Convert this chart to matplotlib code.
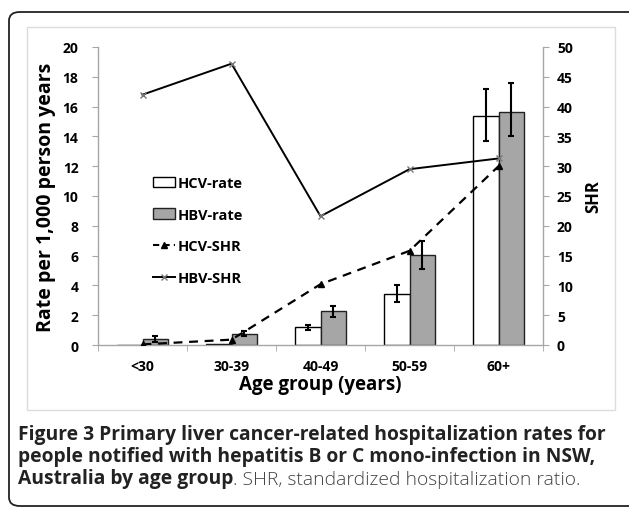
import numpy as np
import matplotlib.pyplot as plt
from matplotlib.patches import FancyBboxPatch, Rectangle, Patch
from matplotlib.lines import Line2D

OUT_PATH = "out.png"

# data
age_groups = ["<30", "30-39", "40-49", "50-59", "60+"]
hcv_rate = [0.0, 0.05, 1.18, 3.43, 15.37]
hcv_lo = [0.0, 0.05, 1.0, 2.9, 13.7]
hcv_hi = [0.0, 0.05, 1.35, 4.0, 17.2]
hbv_rate = [0.42, 0.75, 2.25, 6.06, 15.66]
hbv_lo = [0.2, 0.6, 1.85, 5.1, 14.0]
hbv_hi = [0.62, 0.95, 2.6, 7.0, 17.6]
hcv_shr = [0.1, 0.9, 10.2, 15.8, 30.0]
hbv_shr = [42.0, 47.2, 21.6, 29.5, 31.3]

CHART_FONT = ["Open Sans", "DejaVu Sans"]
CAP_FONT = ["Open Sans", "DejaVu Sans"]
GRID_GRAY = "#a6a6a6"

plt.rcParams["font.family"] = CHART_FONT
plt.rcParams["font.weight"] = "bold"

W, H = 629, 510
fig = plt.figure(figsize=(W / 100, H / 100), dpi=100)


# pixel -> figure fraction
def fx(px):
    return px / W


def fy(py):
    return 1 - py / H


# outer rounded frame and inner chart box
outer = FancyBboxPatch((fx(9), fy(507)), fx(640) - fx(9), fy(13) - fy(507),
                       boxstyle="round,pad=0,rounding_size=0.017",
                       transform=fig.transFigure, fill=False,
                       edgecolor="#222222", linewidth=1.3)
fig.patches.append(outer)
inner = Rectangle((fx(27), fy(411)), fx(615) - fx(27), fy(28) - fy(411),
                  transform=fig.transFigure, fill=False,
                  edgecolor="#dcdcdc", linewidth=1.0)
fig.patches.append(inner)

ax = fig.add_axes([fx(98), fy(346), fx(543) - fx(98), fy(48) - fy(346)])
ax2 = ax.twinx()

x = np.arange(len(age_groups))
bw = 0.285

hcv_err = [np.array(hcv_rate) - np.array(hcv_lo), np.array(hcv_hi) - np.array(hcv_rate)]
hbv_err = [np.array(hbv_rate) - np.array(hbv_lo), np.array(hbv_hi) - np.array(hbv_rate)]

ax.bar(x - bw / 2, hcv_rate, bw, color="white", edgecolor="black", linewidth=1.0, zorder=2)
ax.bar(x + bw / 2, hbv_rate, bw, color="#a6a6a6", edgecolor="#222222", linewidth=1.0, zorder=2)
ax.errorbar(x[2:] - bw / 2, hcv_rate[2:],
            yerr=[hcv_err[0][2:], hcv_err[1][2:]], fmt="none",
            ecolor="black", elinewidth=1.5, capsize=2.2, capthick=1.5, zorder=3)
ax.errorbar(x + bw / 2, hbv_rate, yerr=hbv_err, fmt="none",
            ecolor="black", elinewidth=1.5, capsize=2.2, capthick=1.5, zorder=3)

ax2.plot(x, hcv_shr, color="black", linestyle=(0, (4, 3)), linewidth=1.6,
         marker="^", markersize=4, zorder=4)
ax2.plot(x, hbv_shr, color="black", linewidth=1.4, marker="x",
         markersize=5, markeredgecolor="#777777", markeredgewidth=1.0, zorder=4)

ax.set_xlim(-0.5, len(age_groups) - 0.5)
ax.set_ylim(0, 20)
ax2.set_ylim(0, 50)
ax.set_yticks(np.arange(0, 21, 2))
ax2.set_yticks(np.arange(0, 51, 5))

ax.set_xticks(x)
ax.set_xticklabels(age_groups)
ax.set_xticks(np.arange(-0.5, len(age_groups), 1), minor=True)
ax.tick_params(axis="x", which="major", length=0, pad=10, labelsize=10)
ax.tick_params(axis="x", which="minor", length=4, color=GRID_GRAY, direction="out")
ax.tick_params(axis="y", length=4, color=GRID_GRAY, labelsize=10, pad=10)
ax2.tick_params(axis="y", length=4, color=GRID_GRAY, labelsize=10, pad=6)

for a in (ax, ax2):
    a.spines["top"].set_visible(False)
    for s in ("left", "right", "bottom"):
        a.spines[s].set_color(GRID_GRAY)
        a.spines[s].set_linewidth(1.0)
ax.spines["right"].set_visible(False)
ax2.spines["left"].set_visible(False)
ax2.spines["bottom"].set_visible(False)

ax.set_ylabel("Rate per 1,000 person years", fontsize=14, fontweight="bold", labelpad=5)
ax2.set_ylabel("SHR", fontsize=12, fontweight="bold", labelpad=8)
ax.set_xlabel("Age group (years)", fontsize=13.5, fontweight="bold", labelpad=1)

handles = [
    Patch(facecolor="white", edgecolor="black", linewidth=1.0),
    Patch(facecolor="#a6a6a6", edgecolor="#222222", linewidth=1.0),
    Line2D([], [], color="black", linestyle=(0, (3, 2)), linewidth=1.5, marker="^", markersize=4),
    Line2D([], [], color="black", linewidth=1.4, marker="x", markersize=5,
           markeredgecolor="#777777"),
]
labels = ["HCV-rate", "HBV-rate", "HCV-SHR", "HBV-SHR"]
leg = ax2.legend(handles, labels, loc="upper left", frameon=False,
                 handlelength=1.5, handletextpad=0.15, labelspacing=1.2,
                 prop={"family": CHART_FONT, "weight": "bold", "size": 10.5})
leg.set_bbox_to_anchor((fx(140), fy(164)), transform=fig.transFigure)

# caption
cap_size = 13.9
fig.text(fx(18), fy(440), "Figure 3 Primary liver cancer-related hospitalization rates for",
         fontweight="bold", fontsize=cap_size, family=CAP_FONT, color="#222222", va="baseline")
fig.text(fx(18), fy(462), "people notified with hepatitis B or C mono-infection in NSW,",
         fontweight="bold", fontsize=cap_size, family=CAP_FONT, color="#222222", va="baseline")
t = fig.text(fx(18), fy(484), "Australia by age group", fontweight="bold",
             fontsize=cap_size, family=CAP_FONT, color="#222222", va="baseline")
ax.annotate(". SHR, standardized hospitalization ratio.", xy=(1, 0), xycoords=t,
            va="bottom", ha="left", fontsize=cap_size, family=CAP_FONT, color="#444444",
            fontweight="light", annotation_clip=False)

fig.savefig(OUT_PATH, dpi=100)
print(f"saved: {OUT_PATH}")
